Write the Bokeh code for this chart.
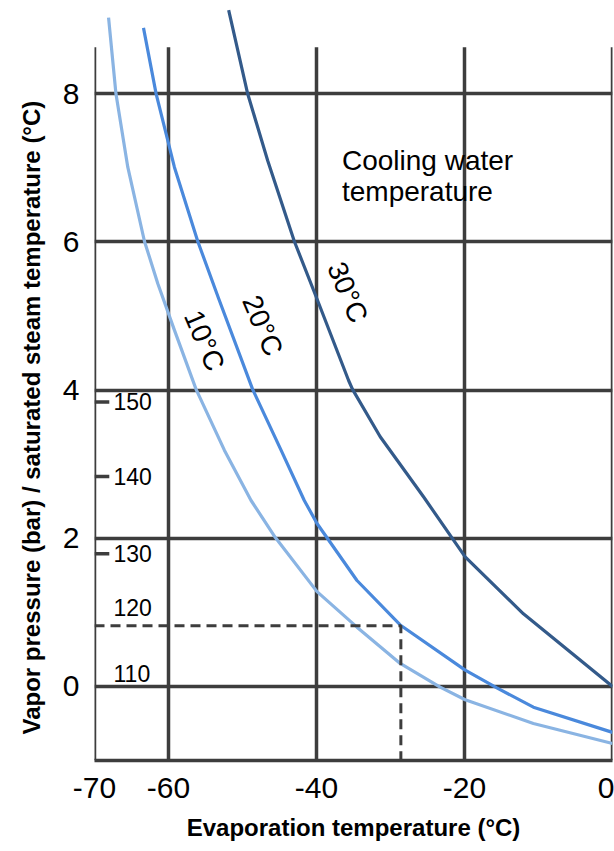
from bokeh.plotting import figure
from bokeh.models import FixedTicker, Range1d, Title
from bokeh.core.properties import value
from bokeh.embed import file_html
from bokeh.resources import INLINE

# ---- data ----
x_ticks = [-70, -60, -40, -20, 0]
x_tick_labels = ["-70", "-60", "-40", "-20", "0"]
y_ticks = [0, 2, 4, 6, 8]

# cooling water 10 °C
cw10_x = [-68.1, -67.1, -65.5, -63.25, -61.45, -59.2, -56.27, -52.45, -48.84, -45.56,
          -39.93, -34.53, -28.69, -23.29, -19.91, -10.69, 0.0]
cw10_y = [9.03, 8.0, 7.01, 6.01, 5.44, 4.81, 4.01, 3.19, 2.51, 2.01,
          1.28, 0.80, 0.31, -0.01, -0.18, -0.50, -0.77]
# cooling water 20 °C
cw20_x = [-63.38, -61.67, -59.2, -56.05, -53.2, -48.63, -44.79, -41.65, -39.93, -34.53,
          -28.69, -19.91, -15.63, -10.69, 0.0]
cw20_y = [8.89, 8.0, 7.01, 6.01, 5.23, 4.01, 3.19, 2.51, 2.20, 1.43,
          0.83, 0.22, -0.02, -0.28, -0.62]
# cooling water 30 °C
cw30_x = [-51.87, -49.3, -46.6, -43.0, -39.85, -35.66, -35.13, -31.39, -25.54, -19.91, -12.04, 0.0]
cw30_y = [9.13, 8.0, 7.10, 6.01, 5.21, 4.13, 4.01, 3.37, 2.56, 1.75, 0.98, 0.0]

curve_names = ["10°C", "20°C", "30°C"]
curve_label_x = [-55.15, -47.28, -35.8]
curve_label_y = [4.67, 4.87, 5.32]

# secondary scale: saturated steam temperature (°C)
steam_labels = ["150", "140", "130", "120", "110"]
steam_label_y = [3.84, 2.835, 1.79, 1.07, 0.175]
steam_tick_y = [3.84, 2.835, 1.79]

# worked example
example_temp = -28.6
example_pressure = 0.82

# ---- style constants ----
FONT = "Liberation Sans"
GRID = "#3d3d3d"
C10 = "#8ab4e3"
C20 = "#4a89dc"
C30 = "#335a8a"
Y_MIN, Y_MAX = -1.0, 9.26
GRID_TOP = 8.63
TICK_LEN = 2.0
LABEL_ANGLE = -1.17

p = figure(width=614, height=851, output_backend="svg", toolbar_location=None,
           x_range=Range1d(-70, 0), y_range=Range1d(Y_MIN, Y_MAX),
           min_border_left=94, min_border_right=2, min_border_top=0,
           min_border_bottom=91)
p.outline_line_color = None
p.background_fill_color = "white"
p.border_fill_color = "white"

p.xgrid.visible = False
p.ygrid.ticker = FixedTicker(ticks=y_ticks)
p.ygrid.grid_line_color = GRID
p.ygrid.grid_line_width = 3.5

# vertical grid lines (stop below the top of the frame)
p.segment(x0=x_ticks, y0=[Y_MIN] * len(x_ticks), x1=x_ticks, y1=[GRID_TOP] * len(x_ticks),
          line_color=GRID, line_width=3.5)

# x axis
p.xaxis.ticker = FixedTicker(ticks=x_ticks)
p.xaxis.major_label_overrides = {t: l for t, l in zip(x_ticks, x_tick_labels)}
p.xaxis.axis_line_color = GRID
p.xaxis.axis_line_width = 3.5
p.xaxis.major_tick_line_color = None
p.xaxis.minor_tick_line_color = None
p.xaxis.major_tick_out = 0
p.xaxis.minor_tick_out = 0
p.xaxis.major_label_text_font = FONT
p.xaxis.major_label_text_font_size = "30px"
p.xaxis.major_label_text_color = "black"
p.xaxis.major_label_standoff = 17
p.xaxis.axis_label = "Evaporation temperature (°C)"
p.xaxis.axis_label_text_font = FONT
p.xaxis.axis_label_text_font_size = "24px"
p.xaxis.axis_label_text_font_style = "bold"
p.xaxis.axis_label_text_color = "black"
p.xaxis.axis_label_standoff = 13

# y axis
p.yaxis.ticker = FixedTicker(ticks=y_ticks)
p.yaxis.axis_line_color = None
p.yaxis.major_tick_line_color = None
p.yaxis.minor_tick_line_color = None
p.yaxis.major_tick_out = 0
p.yaxis.minor_tick_out = 0
p.yaxis.major_label_text_font = FONT
p.yaxis.major_label_text_font_size = "30px"
p.yaxis.major_label_text_color = "black"
p.yaxis.major_label_standoff = 15

# y axis title, shifted along the axis like the reference
p.add_layout(Title(text="Vapor pressure (bar) / saturated steam temperature (°C)",
                   align="left", vertical_align="top", offset=26, standoff=26,
                   text_font=FONT, text_font_size="24px", text_font_style="bold",
                   text_color="black"), "left")

# curves
p.line(cw10_x, cw10_y, line_color=C10, line_width=3.2, line_join="round")
p.line(cw20_x, cw20_y, line_color=C20, line_width=3.2, line_join="round")
p.line(cw30_x, cw30_y, line_color=C30, line_width=3.2, line_join="round")

# example dashed lines
p.line([-70, example_temp, example_temp], [example_pressure, example_pressure, Y_MIN],
       line_color=GRID, line_width=3, line_dash="10 6")

# steam temperature ticks and labels
p.segment(x0=[-70] * len(steam_tick_y), y0=steam_tick_y,
          x1=[-70 + TICK_LEN] * len(steam_tick_y), y1=steam_tick_y,
          line_color=GRID, line_width=3.5)
p.text(x=[-70] * len(steam_labels), y=steam_label_y, text=steam_labels, x_offset=19,
       text_font=value(FONT), text_font_size="23px", text_align="left",
       text_baseline="middle", text_color="black")

# curve labels
p.text(x=curve_label_x, y=curve_label_y, text=curve_names, angle=LABEL_ANGLE,
       text_font=value(FONT), text_font_size="28px", text_align="center",
       text_baseline="middle", text_color="black")

p.text(x=[-36.56], y=[7.31], text=["Cooling water\ntemperature"],
       text_font=value(FONT), text_font_size="28px", text_align="left",
       text_baseline="top", text_line_height=1.0, text_color="black")

open("out.html", "w").write(file_html(p, INLINE))
